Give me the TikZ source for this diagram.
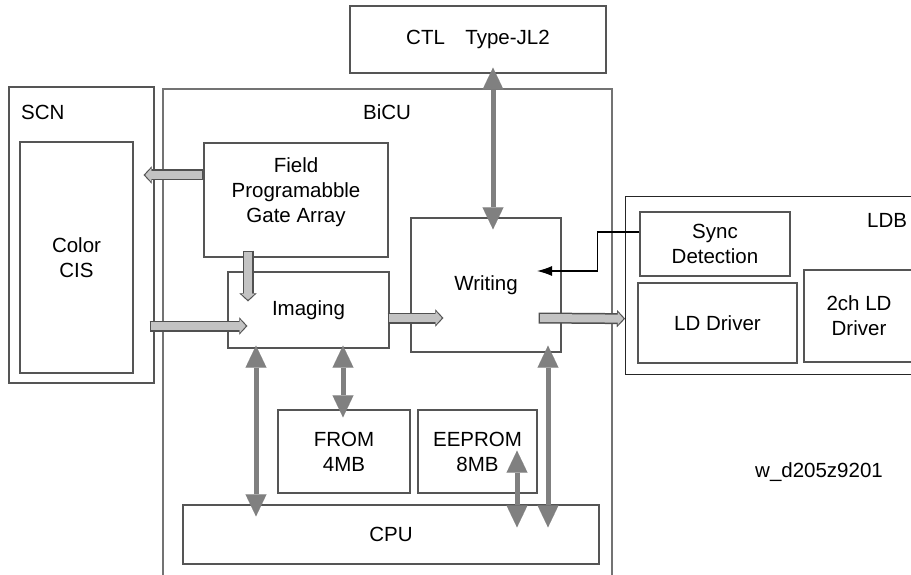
\documentclass[tikz,border=0pt]{standalone}
\usepackage{fontspec}
\setmainfont{Liberation Sans}
\usetikzlibrary{arrows.meta,calc,positioning}
\definecolor{edgecol}{RGB}{85,85,85}
\definecolor{framecol}{RGB}{115,115,115}
\definecolor{buscol}{RGB}{128,128,128}
\definecolor{fatfill}{RGB}{195,195,195}
\definecolor{fatedge}{RGB}{80,80,80}

\begin{document}
\begin{tikzpicture}[x=1pt,y=-1pt,
  every node/.style={font=\fontsize{20.5}{25}\selectfont},
  blk/.style 2 args={draw=edgecol,line width=1.3pt,inner sep=0pt,align=center,
    minimum width=#1 pt,minimum height=#2 pt},
  lbl/.style={inner sep=0pt},
  bus/.style={draw=buscol,line width=5pt,
    {Triangle[length=22pt,width=21pt,line width=0.01pt]}-{Triangle[length=22pt,width=21pt,line width=0.01pt]}},
  fat/.style={draw=fatedge,line width=11pt,-{Triangle[length=8pt,width=17pt,line width=0.01pt]},
    postaction={draw=fatfill,line width=8pt,shorten <=1.5pt,shorten >=1.7pt,
      -{Triangle[length=5.5pt,width=12.5pt,line width=0.01pt]}}},
  sig/.style={draw=black,line width=1.2pt,-{Latex[length=15pt,width=10pt]}}]
\useasboundingbox (0,0) rectangle (911,575);
% outer frames
\node[blk={145}{296}] (scn) at (81.5,235) {};
\node[lbl,anchor=west] (scnlbl) at (21,112) {SCN};
\node[blk={449}{520},draw=framecol,line width=1.6pt,anchor=north west] (bicu) at (162,88) {};
\node[lbl] (biculbl) at (387,112) {BiCU};
\node[blk={290}{178},draw=black!85,anchor=north west] (ldb) at (625,196) {};
\node[lbl,anchor=west] (ldblbl) at (867,220) {LDB};
\node[blk={256}{67}] (ctl) at (478,39.5) {CTL\quad Type-JL2};
% blocks
\node[blk={113}{231}] (cis) at (76.5,257.5) {Color\\CIS};
\node[blk={184}{114},label={[align=center,yshift=8pt]center:Field\\Programabble\\Gate Array}] (fpga) at (296,200) {};
\node[blk={161}{76}] (imaging) at (308.5,310) {Imaging};
\node[blk={150}{134}] (writing) at (486,285) {Writing};
\node[blk={150}{64}] (sync) at (715,244) {Sync\\Detection};
\node[blk={159}{80}] (lddrv) at (717.5,323) {LD Driver};
\node[blk={110}{92}] (twoch) at (859,316) {2ch LD\\Driver};
\node[blk={132}{83}] (from) at (344,451.5) {FROM\\4MB};
\node[blk={119}{83}] (eeprom) at (477.5,451.5) {EEPROM\\8MB};
\node[blk={416}{59}] (cpu) at (391,534.5) {CPU};
\node[lbl,anchor=west] (code) at (755,472) {w\_d205z9201};
% data paths
\draw[fat] ([shift={(0,-25)}]fpga.west) -- ([shift={(-11,-60)}]scn.east);
\draw[fat] ([shift={(-48,-7)}]fpga.south) -- ([shift={(-60.5,30)}]imaging.north);
\draw[fat] ([shift={(-5,91)}]scn.east) -- ([shift={(20,16)}]imaging.west);
\draw[fat] ([shift={(-2,8)}]imaging.east) -- ([shift={(33,33)}]writing.west);
\draw[fat] ([shift={(-23,33)}]writing.east) -- ([shift={(0,33)}]ldb.west);
% buses
\draw[bus] ([shift={(15,-6)}]ctl.south) -- ([shift={(7,12)}]writing.north);
\draw[bus] ([shift={(-52.5,-3)}]imaging.south) -- ([shift={(-135,12)}]cpu.north);
\draw[bus] ([shift={(34.5,-3)}]imaging.south) -- ([shift={(-1,8)}]from.north);
\draw[bus] ([shift={(39.5,-43)}]eeprom.south) -- ([shift={(126,23)}]cpu.north);
\draw[bus] ([shift={(62,-7)}]writing.south) -- ([shift={(157,23)}]cpu.north);
% sync signal
\draw[sig] ([shift={(0,-12)}]sync.west) -- ++(-42,0) |- ([shift={(51,-14)}]writing.center);
\end{tikzpicture}
\end{document}
